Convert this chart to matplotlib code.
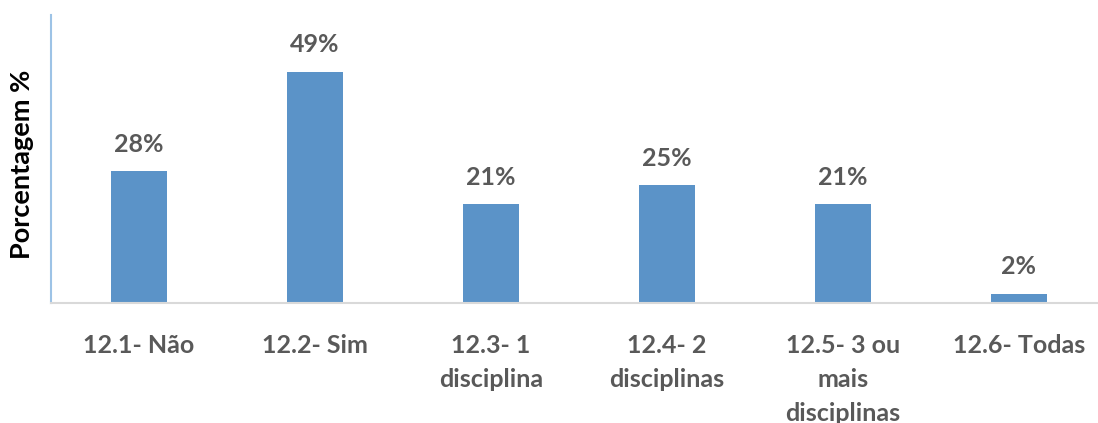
import matplotlib.pyplot as plt

categorias = ["12.1- Não", "12.2- Sim", "12.3- 1\ndisciplina", "12.4- 2\ndisciplinas",
              "12.5- 3 ou\nmais\ndisciplinas", "12.6- Todas"]
valores = [28, 49, 21, 25, 21, 2]
rotulos = ["28%", "49%", "21%", "25%", "21%", "2%"]

plt.rcParams['font.family'] = ['Lato', 'DejaVu Sans']

fig = plt.figure(figsize=(10.98, 4.23), dpi=100)
ax = fig.add_axes([51/1098, 120/423, 1056/1098, 288/423])

x = range(len(valores))
bars = ax.bar(x, valores, width=0.32, color='#5B93C8')

for xi, v, lab in zip(x, valores, rotulos):
    ax.annotate(lab, (xi, v), xytext=(0, 11), textcoords='offset points',
                ha='center', va='bottom', fontsize=18, fontweight='bold', color='#595959')

ax.set_xlim(-0.5, 5.5)
ax.set_ylim(0, 61)
ax.set_yticks([])
ax.set_xticks(list(x))
ax.set_xticklabels(categorias, fontsize=18, fontweight='bold', color='#595959',
                   linespacing=1.6, va='top')
ax.tick_params(axis='x', length=0, pad=22)

for s in ['top', 'right']:
    ax.spines[s].set_visible(False)
ax.spines['left'].set_color('#9DC3E6')
ax.spines['left'].set_linewidth(1.5)
ax.spines['bottom'].set_color('#D9D9D9')
ax.spines['bottom'].set_linewidth(1.5)

fig.text(22/1098, 0.5 + (423/2 - 164)/423, "Porcentagem %", rotation=90, ha='center', va='center',
         fontsize=19.5, fontweight='bold', color='black')

fig.savefig("out.png", dpi=100)
